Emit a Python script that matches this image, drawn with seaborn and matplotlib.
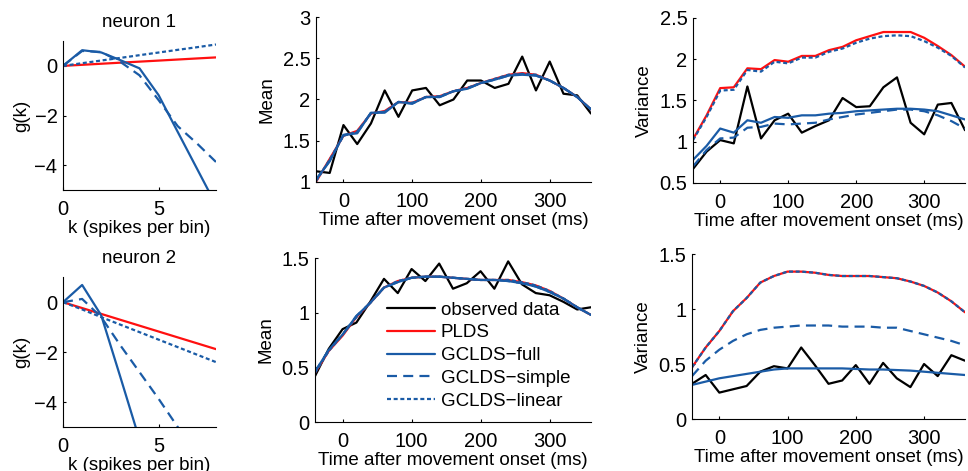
import numpy as np
import pandas as pd
import matplotlib
matplotlib.use('Agg')
import matplotlib.pyplot as plt
from matplotlib.ticker import FuncFormatter
import seaborn as sns

# Datos
k = [0, 1, 2, 3, 4, 5, 6, 7, 8]
time_ms = [-40, -20, 0, 20, 40, 60, 80, 100, 120, 140, 160, 180,
           200, 220, 240, 260, 280, 300, 320, 340, 360]

series_names = ['observed data', 'PLDS', 'GCLDS\u2212full', 'GCLDS\u2212simple', 'GCLDS\u2212linear']

# g(k), neurona 1
g1_plds = [0.0, 0.042, 0.085, 0.128, 0.17, 0.212, 0.255, 0.298, 0.34]
g1_full = [0.0, 0.63, 0.54, 0.23, -0.1, -1.18, -2.66, -4.13, -5.6]
g1_simple = [0.0, 0.6, 0.56, 0.16, -0.38, -1.38, -2.43, -3.12, -3.87]
g1_linear = [0.0, 0.107, 0.215, 0.32, 0.43, 0.537, 0.645, 0.75, 0.86]

# g(k), neurona 2
g2_plds = [0.0, -0.235, -0.47, -0.705, -0.94, -1.175, -1.41, -1.645, -1.88]
g2_full = [0.0, 0.69, -0.53, -3.0, -5.5, -8.0, -10.5, -13.0, -15.5]
g2_simple = [0.0, 0.13, -0.6, -1.73, -2.8, -3.87, -5.0, -6.1, -7.2]
g2_linear = [0.0, -0.29, -0.6, -0.9, -1.2, -1.5, -1.8, -2.1, -2.4]

# Media, neurona 1
mean1_obs = [1.13, 1.11, 1.69, 1.46, 1.71, 2.11, 1.79, 2.11, 2.14, 1.93, 2.0,
             2.23, 2.23, 2.14, 2.19, 2.52, 2.11, 2.46, 2.07, 2.05, 1.83]
mean1_plds = [1.0, 1.28, 1.56, 1.62, 1.83, 1.86, 1.97, 1.96, 2.03, 2.04, 2.1,
              2.14, 2.2, 2.25, 2.3, 2.32, 2.3, 2.23, 2.14, 2.03, 1.88]
mean1_full = [1.03, 1.25, 1.57, 1.59, 1.84, 1.84, 1.97, 1.95, 2.03, 2.03, 2.1,
              2.13, 2.2, 2.24, 2.29, 2.3, 2.29, 2.23, 2.14, 2.03, 1.88]
mean1_simple = [1.02, 1.26, 1.57, 1.6, 1.84, 1.85, 1.97, 1.95, 2.03, 2.03, 2.1,
                2.13, 2.2, 2.24, 2.29, 2.31, 2.29, 2.23, 2.14, 2.03, 1.88]
mean1_linear = [1.01, 1.27, 1.56, 1.61, 1.83, 1.85, 1.97, 1.96, 2.03, 2.04, 2.1,
                2.14, 2.2, 2.25, 2.3, 2.31, 2.3, 2.23, 2.14, 2.03, 1.88]

# Media, neurona 2
mean2_obs = [0.42, 0.67, 0.85, 0.91, 1.1, 1.31, 1.18, 1.4, 1.29, 1.45, 1.22,
             1.27, 1.38, 1.22, 1.47, 1.26, 1.18, 1.16, 1.1, 1.03, 1.05]
mean2_plds = [0.45, 0.65, 0.79, 0.96, 1.09, 1.23, 1.29, 1.32, 1.33, 1.33, 1.32,
              1.31, 1.3, 1.3, 1.3, 1.28, 1.25, 1.2, 1.13, 1.05, 0.98]
mean2_full = [0.46, 0.66, 0.8, 0.97, 1.09, 1.23, 1.28, 1.32, 1.33, 1.33, 1.32,
              1.31, 1.3, 1.3, 1.29, 1.27, 1.24, 1.19, 1.13, 1.05, 0.98]
mean2_simple = [0.46, 0.66, 0.8, 0.97, 1.09, 1.23, 1.28, 1.32, 1.33, 1.33, 1.32,
                1.31, 1.3, 1.3, 1.29, 1.27, 1.24, 1.19, 1.13, 1.05, 0.98]
mean2_linear = [0.45, 0.65, 0.8, 0.96, 1.09, 1.23, 1.29, 1.32, 1.33, 1.33, 1.32,
                1.31, 1.3, 1.3, 1.3, 1.28, 1.25, 1.2, 1.13, 1.05, 0.98]

# Varianza, neurona 1
var1_obs = [0.67, 0.88, 1.02, 0.98, 1.67, 1.04, 1.26, 1.34, 1.11, 1.19, 1.26,
            1.53, 1.42, 1.43, 1.66, 1.78, 1.23, 1.09, 1.45, 1.47, 1.14]
var1_plds = [1.03, 1.32, 1.65, 1.66, 1.89, 1.88, 1.99, 1.97, 2.04, 2.04, 2.11,
             2.15, 2.23, 2.28, 2.33, 2.33, 2.33, 2.26, 2.16, 2.05, 1.91]
var1_full = [0.78, 0.95, 1.16, 1.11, 1.26, 1.23, 1.3, 1.29, 1.32, 1.32, 1.34,
             1.35, 1.37, 1.38, 1.39, 1.4, 1.4, 1.39, 1.37, 1.32, 1.27]
var1_simple = [0.7, 0.9, 1.04, 1.05, 1.17, 1.18, 1.22, 1.21, 1.22, 1.23, 1.27,
               1.3, 1.33, 1.35, 1.37, 1.39, 1.39, 1.37, 1.32, 1.25, 1.16]
var1_linear = [1.02, 1.3, 1.62, 1.63, 1.87, 1.85, 1.97, 1.95, 2.02, 2.02, 2.09,
               2.13, 2.2, 2.25, 2.28, 2.29, 2.28, 2.22, 2.14, 2.04, 1.9]

# Varianza, neurona 2
var2_obs = [0.32, 0.4, 0.24, 0.27, 0.3, 0.43, 0.48, 0.46, 0.65, 0.49, 0.32,
            0.35, 0.49, 0.32, 0.51, 0.37, 0.29, 0.5, 0.39, 0.58, 0.53]
var2_plds = [0.47, 0.65, 0.8, 0.98, 1.1, 1.24, 1.3, 1.34, 1.34, 1.33, 1.31,
             1.3, 1.3, 1.3, 1.29, 1.28, 1.25, 1.21, 1.15, 1.07, 0.97]
var2_full = [0.31, 0.34, 0.37, 0.39, 0.41, 0.43, 0.45, 0.46, 0.46, 0.46, 0.46,
             0.46, 0.455, 0.45, 0.45, 0.445, 0.44, 0.43, 0.42, 0.41, 0.4]
var2_simple = [0.39, 0.53, 0.63, 0.71, 0.77, 0.81, 0.83, 0.84, 0.85, 0.85, 0.85,
               0.84, 0.84, 0.84, 0.83, 0.83, 0.8, 0.77, 0.74, 0.71, 0.67]
var2_linear = [0.47, 0.65, 0.8, 0.98, 1.1, 1.24, 1.3, 1.34, 1.34, 1.33, 1.31,
               1.3, 1.3, 1.3, 1.29, 1.28, 1.25, 1.21, 1.15, 1.07, 0.97]

# Estilo
RED = '#ff1010'
BLUE = '#1a5ba6'
styles = {
    'observed data': dict(color='black', linestyle='-'),
    'PLDS': dict(color=RED, linestyle='-'),
    'GCLDS\u2212full': dict(color=BLUE, linestyle='-'),
    'GCLDS\u2212simple': dict(color=BLUE, linestyle=(0, (4.5, 2.8))),
    'GCLDS\u2212linear': dict(color=BLUE, linestyle=(0, (1.8, 1.2))),
}
FS = 13.5
TICK_FS = 14.5

sns.set_style('ticks')
plt.rcParams['font.family'] = ['Liberation Sans', 'DejaVu Sans']
plt.rcParams['axes.linewidth'] = 0.8
plt.rcParams['xtick.direction'] = 'in'
plt.rcParams['ytick.direction'] = 'in'
plt.rcParams['xtick.major.size'] = 2.5
plt.rcParams['ytick.major.size'] = 2.5
plt.rcParams['xtick.major.width'] = 0.8
plt.rcParams['ytick.major.width'] = 0.8
plt.rcParams['axes.edgecolor'] = 'black'
plt.rcParams['xtick.color'] = 'black'
plt.rcParams['ytick.color'] = 'black'
plt.rcParams['text.color'] = 'black'
plt.rcParams['axes.labelcolor'] = 'black'

fig = plt.figure(figsize=(9.68, 4.71), dpi=100)

fmt = FuncFormatter(lambda v, p: ('%g' % v).replace('-', '\u2212'))


def draw(ax, x, ys):
    for name, y in zip(series_names, ys):
        if y is None:
            continue
        sns.lineplot(x=x, y=y, ax=ax, label=name, linewidth=1.6,
                     legend=False, **styles[name])


def finish(ax):
    sns.despine(ax=ax)
    ax.tick_params(axis='x', labelsize=TICK_FS, pad=7)
    ax.tick_params(axis='y', labelsize=TICK_FS, pad=4)
    ax.yaxis.set_major_formatter(fmt)
    ax.xaxis.set_major_formatter(fmt)


# Paneles g(k)
left_pos = [[0.0651, 0.5966, 0.158, 0.3163], [0.0651, 0.0934, 0.158, 0.318]]
g_data = [(g1_plds, g1_full, g1_simple, g1_linear),
          (g2_plds, g2_full, g2_simple, g2_linear)]
for i, (pos, gd) in enumerate(zip(left_pos, g_data)):
    ax = fig.add_axes(pos)
    draw(ax, k, [None] + list(gd))
    ax.set_xlim(0, 8)
    ax.set_ylim(-5, 1)
    ax.set_xticks([0, 5])
    ax.set_yticks([-4, -2, 0])
    ax.set_title(f'neuron {i + 1}', fontsize=FS, pad=10)
    ax.set_xlabel('k (spikes per bin)', fontsize=FS, labelpad=1)
    ax.set_ylabel('g(k)', fontsize=FS, labelpad=3)
    finish(ax)

# Paneles de media
mid_pos = [[0.3264, 0.6136, 0.2841, 0.3503], [0.3254, 0.104, 0.2851, 0.348]]
mean_data = [(mean1_obs, mean1_plds, mean1_full, mean1_simple, mean1_linear),
             (mean2_obs, mean2_plds, mean2_full, mean2_simple, mean2_linear)]
mean_lims = [(1, 3, [1, 1.5, 2, 2.5, 3]), (0, 1.5, [0, 0.5, 1, 1.5])]
for i, (pos, md, lim) in enumerate(zip(mid_pos, mean_data, mean_lims)):
    ax = fig.add_axes(pos)
    draw(ax, time_ms, md)
    ax.set_xlim(-40, 360)
    ax.set_ylim(lim[0], lim[1])
    ax.set_xticks([0, 100, 200, 300])
    ax.set_yticks(lim[2])
    ax.set_xlabel('Time after movement onset (ms)', fontsize=FS, labelpad=1)
    ax.set_ylabel('Mean', fontsize=FS, labelpad=5)
    finish(ax)
    if i == 1:
        ax.legend(loc='center left', bbox_to_anchor=(0.262, 0.405),
                  frameon=False, fontsize=FS, handlelength=2.55,
                  handletextpad=0.3, labelspacing=0.3, borderpad=0,
                  borderaxespad=0)

# Paneles de varianza
right_pos = [[0.7159, 0.6115, 0.2810, 0.3503], [0.7149, 0.1104, 0.2820, 0.3503]]
var_data = [(var1_obs, var1_plds, var1_full, var1_simple, var1_linear),
            (var2_obs, var2_plds, var2_full, var2_simple, var2_linear)]
var_lims = [(0.5, 2.5, [0.5, 1, 1.5, 2, 2.5]), (0, 1.5, [0, 0.5, 1, 1.5])]
for pos, vd, lim in zip(right_pos, var_data, var_lims):
    ax = fig.add_axes(pos)
    draw(ax, time_ms, vd)
    ax.set_xlim(-40, 360)
    ax.set_ylim(lim[0], lim[1])
    ax.set_xticks([0, 100, 200, 300])
    ax.set_yticks(lim[2])
    ax.set_xlabel('Time after movement onset (ms)', fontsize=FS, labelpad=1)
    ax.set_ylabel('Variance', fontsize=FS, labelpad=5)
    finish(ax)

fig.savefig('out.png', dpi=100)
